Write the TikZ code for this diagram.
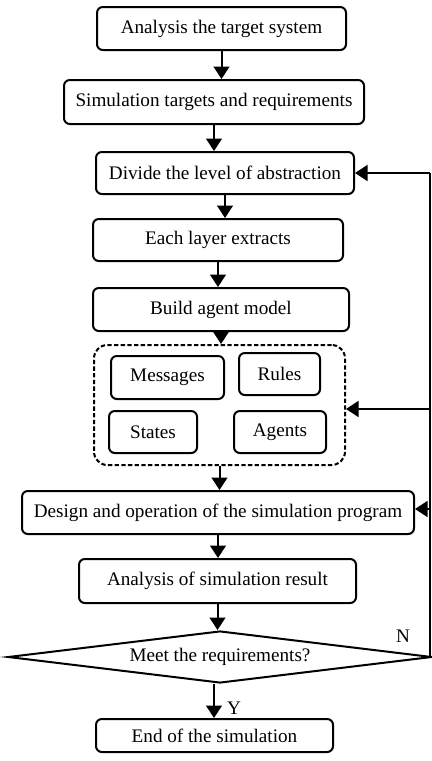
\documentclass[tikz,border=0pt]{standalone}
\usepackage{fontspec}
\setmainfont{Liberation Serif}
\usetikzlibrary{arrows.meta,shapes.geometric}
\newcommand{\pxu}{0.6pt}
\begin{document}
\begin{tikzpicture}
  [x=0.6pt,y=-0.6pt,line width=1.2pt,
  every node/.style={font=\fontsize{11.5}{13}\selectfont,inner sep=0pt},
  stepbox/.style={draw,rounded corners=3.5pt},
  groupbox/.style={draw,rounded corners=8pt,dash pattern=on 2.6pt off 1.4pt},
  decision/.style={draw,diamond,aspect=8},
  arr/.style={-{Triangle[width=9.5pt,length=7.5pt]}}]
  \useasboundingbox (0,0) rectangle (432,761);
  \node[stepbox,minimum width=249*\pxu,minimum height=43*\pxu] (0) at (221.5,28.5) {Analysis the target system};
  \node[stepbox,minimum width=300*\pxu,minimum height=44*\pxu] (1) at (214,102) {Simulation targets and requirements};
  \node[stepbox,minimum width=258*\pxu,minimum height=42*\pxu] (2) at (225,173) {Divide the level of abstraction};
  \node[stepbox,minimum width=250*\pxu,minimum height=42*\pxu] (3) at (218,240) {Each layer extracts};
  \node[stepbox,minimum width=256*\pxu,minimum height=43*\pxu] (4) at (221,309.5) {Build agent model};
  \node[groupbox,minimum width=251*\pxu,minimum height=120*\pxu] (5) at (219.5,405) {};
  \node[stepbox,minimum width=113*\pxu,minimum height=43*\pxu] (m) at (167.5,377.5) {Messages};
  \node[stepbox,minimum width=81*\pxu,minimum height=42*\pxu] (r) at (279.5,374) {Rules};
  \node[stepbox,minimum width=88*\pxu,minimum height=42*\pxu] (s) at (153,432) {States};
  \node[stepbox,minimum width=92*\pxu,minimum height=42*\pxu] (a) at (280,432) {Agents};
  \node[stepbox,minimum width=392*\pxu,minimum height=43*\pxu] (6) at (218,512.5) {Design and operation of the simulation program};
  \node[stepbox,minimum width=277*\pxu,minimum height=44*\pxu] (7) at (217.5,581) {Analysis of simulation result};
  \node[decision,minimum width=424*\pxu,minimum height=52*\pxu] (8) at (220,657) {Meet the requirements?};
  \node[stepbox,minimum width=237*\pxu,minimum height=33*\pxu] (9) at (214.5,735.5) {End of the simulation};
  \node (n) at (403,636) {N};
  \node (y) at (234,708) {Y};
  \coordinate (t0) at (430,173);
  \coordinate (t1) at (430,409);
  \coordinate (t2) at (430,509);
  \coordinate (t3) at (430,657);

  \draw[arr] (0) -- (0 |- 1.north);
  \draw[arr] (1) -- (1 |- 2.north);
  \draw[arr] (2) -- (2 |- 3.north);
  \draw[arr] (3) -- (3 |- 4.north);
  \draw[arr] (4) -- (4 |- 5.north);
  \draw[arr] (5) -- (5 |- 6.north);
  \draw[arr] (6) -- (6 |- 7.north);
  \draw[arr] (7) -- (7 |- 8.north);
  \draw[arr] (8.south -| 214,0) -- (214,0 |- 9.north);
  \draw (8.east) -- (t3) -- (t0);
  \draw[arr] (t0) -- (2.east);
  \draw[arr] (t1) -- (t1 -| 5.east);
  \draw[arr] (t2) -- (t2 -| 6.east);

\end{tikzpicture}
\end{document}
